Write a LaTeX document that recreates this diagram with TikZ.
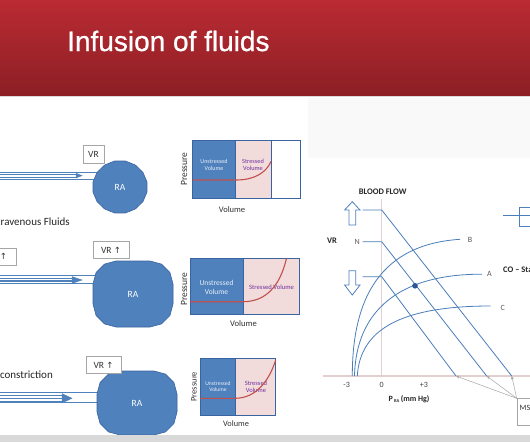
\documentclass[tikz,border=0pt]{standalone}
\usepackage{fontspec}
\setmainfont{Carlito}
\newfontfamily\titlefont[FakeBold=0.8]{Liberation Sans}
\newfontfamily\symfont{DejaVu Sans}
\usetikzlibrary{arrows.meta}
\definecolor{hdrtop}{HTML}{BA2B33}
\definecolor{hdrbot}{HTML}{8C1F24}
\definecolor{obl}{HTML}{4F81BD}
\definecolor{obldark}{HTML}{3A64A0}
\definecolor{gblue}{HTML}{4A7EBB}
\definecolor{pinkf}{HTML}{F2DCDB}
\definecolor{redc}{HTML}{C0504D}
\definecolor{purp}{HTML}{7030A0}
\definecolor{axisp}{HTML}{E2D0D0}
\definecolor{stripg}{HTML}{D9D9D9}
\definecolor{panelgray}{HTML}{F9F9F9}
\definecolor{dotblue}{HTML}{2E5597}
\newcommand\rrpoly[5]{%
  \filldraw[rashape] ({#1+#3},{#2-#4+#5})
    \foreach \k/\sx/\sy in {0/1/1,1/-1/1,2/-1/-1,3/1/-1}{
      \foreach \j in {0,30,60,90}{
        -- ({#1+\sx*(#3-#5)+#5*cos(90*\k+\j)},{#2-\sy*(#4-#5)-#5*sin(90*\k+\j)})
      }
    } -- cycle;}
\newcommand\ngon[4]{%
  \filldraw[rashape] ({#1+#3*cos(11.25)},{#2-#4*sin(11.25)})
    \foreach \j in {1,...,15}{
      -- ({#1+#3*cos(11.25+22.5*\j)},{#2-#4*sin(11.25+22.5*\j)})
    } -- cycle;}
\begin{document}
\begin{tikzpicture}[x=1pt,y=-1pt,
  chan/.style={draw=obl, line width=0.7pt},
  rashape/.style={fill=obl, draw=obldark, line width=0.6pt, line join=miter},
  headfill/.style={fill=obl, draw=obl, line width=0.4pt},
  ratext/.style={text=white, font=\fontsize{9.5}{10}\selectfont, inner sep=0pt},
  vrbox/.style={draw=black!35, fill=white, line width=0.6pt, inner sep=0pt, text=black!80, font=\fontsize{9.5}{10}\selectfont},
  side/.style={font=\fontsize{11}{12}\selectfont, text=black!85, inner sep=0pt},
  pvborder/.style={draw=obldark, line width=0.8pt},
  redline/.style={draw=redc, line width=1.1pt},
  unst/.style={text=white!88!obl, align=center, inner sep=0pt},
  strs/.style={text=purp, align=center, inner sep=0pt},
  axlab/.style={text=black!80, inner sep=0pt},
  gline/.style={draw=gblue, line width=0.8pt},
  axisline/.style={draw=axisp, line width=1.1pt},
  glab/.style={font=\fontsize{8}{9}\selectfont, text=black!65, inner sep=0pt},
  gbold/.style={font=\fontsize{8.5}{9}\selectfont\bfseries, text=black!85, inner sep=0pt},
  hollow/.style={draw=obl, fill=white, line width=0.8pt},
  msfarrow/.style={draw=black!35, line width=0.5pt, -{Stealth[length=3.5pt,width=3pt]}}
]
\useasboundingbox (0,0) rectangle (530,442);
\begin{scope}
\clip (0,0) rectangle (530,442);
\fill[white] (0,0) rectangle (530,442);
% header
\shade[top color=hdrtop, bottom color=hdrbot] (0,0) rectangle (530,95);
\draw[draw=black!15, line width=1pt] (0,96) -- (530,96);
\node[anchor=base west, inner sep=0pt, text=white, font=\titlefont\fontsize{28}{30}\selectfont] (title) at (67,51) {Infusion of fluids};
% right panel background
\fill[panelgray] (308,97.5) rectangle (530,158);

% ---------- Row 1 ----------
\coordinate (c1a) at (-3,172);
\coordinate (c1b) at (-3,179);
\coordinate (ra1c) at (120,187);
\draw[chan] (c1a) -- (c1a -| ra1c);
\draw[chan] (c1b) -- (c1b -| ra1c);
\coordinate (a1a) at (-3,174.4);
\coordinate (a1b) at (-3,176.8);
\coordinate (h1) at (82,175.6);
\draw[chan, line width=0.6pt] (a1a) -- (a1a -| 76,0);
\draw[chan, line width=0.6pt] (a1b) -- (a1b -| 76,0);
\filldraw[headfill] (76,173.2) -- (h1) -- (76,178) -- cycle;
\ngon{120}{187}{27.5}{26.5}
\node[ratext] (ra1) at (ra1c) {RA};
\node[vrbox, minimum width=21pt, minimum height=18pt] (vr1) at (93.5,154) {VR};
\node[side, anchor=east] (iv) at (70,221.5) {Intravenous Fluids};
% PV 1
\fill[obl] (192.7,140) rectangle (235.7,198.3);
\fill[pinkf] (235.7,140) rectangle (271,198.3);
\fill[white] (271,140) rectangle (300.7,198.3);
\draw[pvborder] (192.7,140) rectangle (300.7,198.3) (235.7,140) -- (235.7,198.3) (271,140) -- (271,198.3);
\node[unst, font=\fontsize{6}{6.8}\selectfont] (u1) at (214,165) {Unstressed\\Volume};
\node[strs, font=\fontsize{6.3}{7}\selectfont] (s1) at (253,165) {Stressed\\Volume};
\draw[redline] (193,180) -- (236,180) .. controls (254,180) and (266,173) .. (271,161.5);
\node[axlab, rotate=90, font=\fontsize{9.5}{10}\selectfont] (p1) at (184,169) {Pressure};
\node[axlab, font=\fontsize{8.5}{9}\selectfont] (v1) at (232,209.5) {Volume};

% ---------- Row 2 ----------
\coordinate (c2a) at (-3,275.7);
\coordinate (c2b) at (-3,283.3);
\coordinate (ra2c) at (133,294);
\draw[chan] (c2a) -- (c2a -| ra2c);
\draw[chan] (c2b) -- (c2b -| ra2c);
\foreach \yy in {278.3,280,281.7}{\draw[chan, line width=0.6pt] (-3,\yy) -- (74,\yy);}
\filldraw[headfill] (72,276.6) -- (82,280) -- (72,283.4) -- cycle;
\rrpoly{133}{294}{40}{33}{23}
\node[ratext] (ra2) at (ra2c) {RA};
\node[vrbox, minimum width=36pt, minimum height=16.6pt] (vr2) at (111,250) {VR {\symfont\fontsize{8.5}{9}\selectfont ↑}};
\node[vrbox, minimum width=40pt, minimum height=17pt, text width=38pt, align=right] (lb) at (-4,256.5) {{\symfont\fontsize{8.5}{9}\selectfont ↑}\hspace*{8pt}};
% PV 2
\fill[obl] (190,258.3) rectangle (243.3,314);
\fill[pinkf] (243.3,258.3) rectangle (299.3,314);
\draw[pvborder] (190,258.3) rectangle (299.3,314) (243.3,258.3) -- (243.3,314);
\node[unst, font=\fontsize{7.5}{8.5}\selectfont] (u2) at (216.5,287.3) {Unstressed\\Volume};
\node[strs, font=\fontsize{6.6}{7}\selectfont] (s2) at (271.5,287.3) {Stressed Volume};
\draw[redline] (190,301.7) -- (243,301.7) .. controls (266,301.7) and (280,286) .. (286.5,258.3);
\node[axlab, rotate=90, font=\fontsize{9.5}{10}\selectfont] (p2) at (184,289) {Pressure};
\node[axlab, font=\fontsize{8.6}{9}\selectfont] (v2) at (243.5,323.5) {Volume};

% ---------- Row 3 ----------
\coordinate (c3a) at (-3,392.3);
\coordinate (c3b) at (-3,402.7);
\coordinate (ra3c) at (137,403);
\draw[chan] (c3a) -- (c3a -| ra3c);
\draw[chan] (c3b) -- (c3b -| ra3c);
\foreach \yy in {395.6,398.3,401}{\draw[chan, line width=0.6pt] (-3,\yy) -- (64,\yy);}
\filldraw[headfill] (62,393.6) -- (72,398.3) -- (62,403) -- cycle;
\rrpoly{137}{403}{40}{32}{23}
\node[ratext] (ra3) at (ra3c) {RA};
\node[vrbox, minimum width=35pt, minimum height=16.6pt] (vr3) at (103.5,365) {VR {\symfont\fontsize{8.5}{9}\selectfont ↑}};
\node[side, anchor=east] (vc) at (53,375) {Venoconstriction};
% PV 3
\fill[obl] (200,358.3) rectangle (235.7,415.7);
\fill[pinkf] (235.7,358.3) rectangle (275.7,415.7);
\draw[pvborder] (200,358.3) rectangle (275.7,415.7) (235.7,358.3) -- (235.7,415.7);
\node[unst, font=\fontsize{5.6}{6.5}\selectfont] (u3) at (218,386.5) {Unstressed\\Volume};
\node[strs, font=\fontsize{6.5}{7.3}\selectfont] (s3) at (256,386.5) {Stressed\\Volume};
\draw[redline] (200,398.3) -- (235,398.3) .. controls (256,398.3) and (269,381) .. (275.7,360);
\node[axlab, rotate=90, font=\fontsize{8.5}{9}\selectfont] (p3) at (194,386.7) {Pressure};
\node[axlab, font=\fontsize{8.3}{9}\selectfont] (v3) at (236,423.5) {Volume};

% ---------- Right graph ----------
\node[gbold] (bf) at (382.7,191.7) {BLOOD FLOW};
\draw[axisline] (381.7,199) -- (381.7,376);
\draw[axisline] (323,376) -- (531,376);
\node[gbold] (vrl) at (332,241) {VR};
% hollow arrows
\draw[hollow] (352.3,201.7) -- (360,210) -- (355.7,210) -- (355.7,225) -- (349,225) -- (349,210) -- (344.6,210) -- cycle;
\draw[hollow] (349,270.7) -- (355.7,270.7) -- (355.7,285) -- (360,285) -- (352.3,295) -- (344.6,285) -- (349,285) -- cycle;
% VR lines
\node[glab] (nl) at (357.3,242) {N};
\coordinate (t1) at (362.7,210); \coordinate (k1) at (381.7,210); \coordinate (e1) at (511.7,376);
\coordinate (t2) at (362.7,241.7); \coordinate (k2) at (381.7,241.7); \coordinate (e2) at (486.7,376);
\coordinate (t3) at (362.7,276.7); \coordinate (k3) at (381.7,276.7); \coordinate (e3) at (456,376);
\draw[gline] (t1) -- (k1) -- (e1);
\draw[gline] (t2) -- (k2) -- (e2);
\draw[gline] (t3) -- (k3) -- (e3);
% CO curves
\coordinate (bs) at (352.3,376); \coordinate (be) at (460,239.3);
\coordinate (as) at (354.5,376); \coordinate (ae) at (482,274.2);
\coordinate (cs) at (357.3,376); \coordinate (ce) at (490.7,306);
\draw[gline] (bs) .. controls (352.3,310) and (372,245) .. (be);
\draw[gline] (as) .. controls (356,310) and (400,274) .. (ae);
\draw[gline] (cs) .. controls (360,330) and (400,306) .. (ce);
\node[glab] (bl) at (470,240) {B};
\node[glab] (al) at (489.5,273.5) {A};
\node[glab] (cl) at (502.7,308.3) {C};
\fill[dotblue] (415,285.8) circle (2.8);
% axis labels
\node[glab, text=black!75] (m3) at (346.7,384.5) {-3};
\node[glab, text=black!75] (z0) at (381.7,384.5) {0};
\node[glab, text=black!75] (p3l) at (424,384.5) {+3};
\node[gbold, font=\fontsize{8}{9}\selectfont\bfseries] (pra) at (409,399) {P\,\raisebox{-1.5pt}{\fontsize{4.5}{5}\selectfont RA}\,(mm Hg)};
% MSF box and arrows
\node[draw=black!35, fill=white, line width=0.6pt, anchor=north west, minimum width=30pt, minimum height=26.7pt, inner sep=0pt] (msf) at (516.7,398.3) {};
\node[glab, anchor=west, text=black!80] (msft) at (519.5,407.5) {MSF};
\draw[msfarrow] (msf.north west) -- (e3);
\draw[msfarrow] (msf.north west) -- (e2);
\draw[msfarrow] (msf.north west) -- (e1);
% top right legend
\node[draw=obl, fill=white, line width=0.8pt, anchor=north west, minimum width=26pt, minimum height=19.3pt, inner sep=0pt] (lg) at (519,206.7) {};
\coordinate (lgs) at (503.3,215.7);
\draw[gline] (lgs) -- (lgs -| 535,0);
\node[gbold, anchor=west] (cot) at (503,270) {CO -- Starling};

% bottom strip
\fill[stripg] (0,435) rectangle (530,442);
\end{scope}
\end{tikzpicture}
\end{document}
